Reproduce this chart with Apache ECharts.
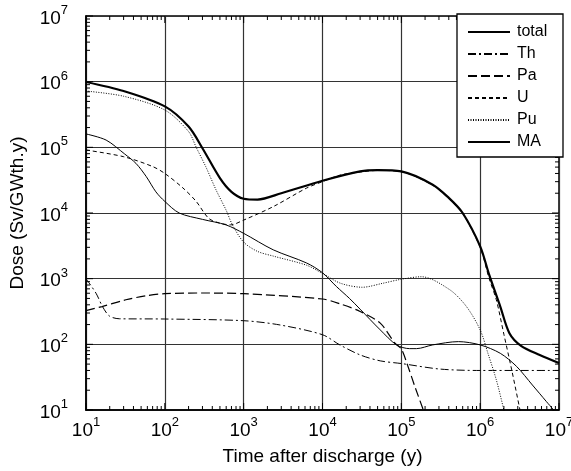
<!DOCTYPE html>
<html>
<head>
<meta charset="utf-8">
<script src="https://cdn.jsdelivr.net/npm/echarts@6/dist/echarts.min.js"></script>
<style>
  html, body { margin: 0; padding: 0; background: #fff; }
  #chart { width: 571px; height: 471px; }
</style>
</head>
<body>
<div id="chart"></div>
<script>
// dose curves, time in years, dose in Sv/GWth.y
const totalT = [10, 30, 100, 200, 300, 500, 700, 1000, 1500, 3000, 1e4, 3e4, 5e4, 1e5, 2.5e5, 4e5, 6e5, 1e6, 1.3e6, 1.8e6, 2.35e6, 3.3e6, 5.7e6, 1e7];
const totalV = [9.9e5, 7.2e5, 4.2e5, 2.07e5, 9.7e4, 3.4e4, 2.1e4, 1.65e4, 1.6e4, 2.0e4, 3.1e4, 4.3e4, 4.5e4, 4.3e4, 2.7e4, 1.7e4, 1.0e4, 3.1e3, 1.15e3, 376, 148, 95, 69, 52];

const thT = [10, 13.4, 16.2, 19.8, 26.5, 100, 1000, 2900, 1e4, 1.66e4, 3e4, 5.4e4, 1e5, 3.1e5, 1e6, 1e7];
const thV = [1000, 600, 376, 270, 245, 243, 229, 197, 140, 98, 69, 56, 51, 42, 40, 40];

const paT = [10, 16, 32, 58, 100, 300, 1000, 1e4, 1.66e4, 3e4, 5.4e4, 8.3e4, 1e5, 1.2e5, 1.5e5, 1.9e5, 2.2e5];
const paV = [327, 376, 477, 550, 590, 605, 590, 490, 415, 317, 210, 104, 85, 48, 22, 10, 6];

const uT = [10, 30, 70, 100, 170, 250, 360, 500, 680, 1000, 2400, 6300, 1e4, 1.7e4, 3e4, 5e4, 1e5, 2.5e5, 4e5, 6e5, 1e6, 1.3e6, 1.6e6, 2e6, 2.5e6, 3.2e6, 3.6e6];
const uV = [9.1e4, 7.2e4, 5.1e4, 4.0e4, 2.4e4, 1.5e4, 8.3e3, 7.0e3, 6.6e3, 7.8e3, 1.26e4, 2.4e4, 3.0e4, 3.8e4, 4.2e4, 4.45e4, 4.25e4, 2.65e4, 1.65e4, 9.8e3, 3.0e3, 1.0e3, 480, 142, 42, 10, 5];

const puT = [10, 30, 100, 200, 250, 330, 450, 600, 720, 1000, 1500, 2400, 6300, 1e4, 1.7e4, 3.2e4, 5.8e4, 1e5, 1.8e5, 4.1e5, 6.7e5, 1e6, 1.25e6, 1.6e6, 2e6, 2.3e6];
const puV = [7.2e5, 6.0e5, 3.7e5, 1.74e5, 1.0e5, 5.1e4, 2.2e4, 1.1e4, 6.6e3, 3.6e3, 2.6e3, 2.2e3, 1.6e3, 1.2e3, 850, 740, 850, 980, 1.07e3, 680, 376, 166, 74, 29, 10, 5];

const maT = [10, 18, 31, 43, 58, 77, 100, 152, 300, 595, 1000, 2370, 6300, 1e4, 1.5e4, 2.2e4, 3e4, 5.4e4, 8.7e4, 1.27e5, 1.56e5, 2.5e5, 5.3e5, 1e6, 1.8e6, 2.9e6, 4.6e6, 6.9e6, 8.5e6, 1e7];
const maV = [1.6e5, 1.29e5, 7.9e4, 5.7e4, 3.6e4, 2.1e4, 1.5e4, 1.0e4, 8.0e3, 6.6e3, 4.9e3, 2.75e3, 1.73e3, 1.23e3, 760, 500, 343, 166, 98, 86, 86, 98, 110, 98, 73, 46, 24, 13.5, 10, 7];

const names = ['total', 'Th', 'Pa', 'U', 'Pu', 'MA'];
const decades = [1, 2, 3, 4, 5, 6, 7];

const font = '"Liberation Sans", Arial, Helvetica, sans-serif';

function pairs(t, v) {
    return t.map((x, i) => [x, v[i]]);
}

// inside ticks on all four sides (2..9 per decade)
let xTicks = [];
let yTicks = [];
decades.forEach(d => {
    xTicks.push([Math.pow(10, d), 100, 7]);
    yTicks.push([100, Math.pow(10, d), 7]);
    if (d < 7) {
        for (let m = 2; m <= 9; m++) {
            xTicks.push([m * Math.pow(10, d), 100, 4]);
            yTicks.push([100, m * Math.pow(10, d), 4]);
        }
    }
});

function tickLine(x1, y1, x2, y2) {
    return {type: 'line', shape: {x1: x1, y1: y1, x2: x2, y2: y2}, style: {stroke: '#000', lineWidth: 1}};
}

function powLabel(v) {
    return '{b|10}{s|' + Math.round(Math.log10(v)) + '}';
}

const labelRich = {
    b: {fontSize: 19, fontFamily: font, color: '#000', verticalAlign: 'bottom'},
    s: {fontSize: 13, fontFamily: font, color: '#000', verticalAlign: 'bottom', padding: [0, 0, 11, 0]}
};

function lineSeries(name, t, v, width, dash) {
    return {
        name: name,
        type: 'line',
        data: pairs(t, v),
        symbol: 'none',
        showSymbol: false,
        smooth: 0.3,
        clip: true,
        color: '#000',
        itemStyle: {color: '#000'},
        lineStyle: {color: '#000', width: width, type: dash},
        z: 2
    };
}

const chart = echarts.init(document.getElementById('chart'));
chart.setOption({
    backgroundColor: '#fff',
    animation: false,
    grid: {
        left: 86,
        right: 12,
        top: 16,
        bottom: 61,
        outerBoundsMode: 'none',
        containLabel: false,
        show: true,
        borderColor: '#000',
        borderWidth: 1.5,
        backgroundColor: 'transparent'
    },
    xAxis: {
        type: 'log',
        logBase: 10,
        min: 10,
        max: 1e7,
        name: 'Time after discharge (y)',
        nameLocation: 'middle',
        nameGap: 37,
        nameTextStyle: {fontSize: 19, fontFamily: font, color: '#000'},
        axisLine: {lineStyle: {color: '#000', width: 1.5}},
        axisTick: {show: false},
        axisLabel: {formatter: powLabel, rich: labelRich, margin: 6},
        splitLine: {show: true, lineStyle: {color: '#333', width: 1.2}},
        minorTick: {show: false}
    },
    yAxis: {
        type: 'log',
        logBase: 10,
        min: 10,
        max: 1e7,
        name: 'Dose (Sv/GWth.y)',
        nameLocation: 'middle',
        nameGap: 59,
        nameTextStyle: {fontSize: 19, fontFamily: font, color: '#000'},
        axisLine: {lineStyle: {color: '#000', width: 1.5}},
        axisTick: {show: false},
        axisLabel: {formatter: powLabel, rich: labelRich, margin: 18},
        splitLine: {show: true, lineStyle: {color: '#333', width: 1.2}},
        minorTick: {show: false}
    },
    legend: {
        data: names,
        orient: 'vertical',
        left: 467,
        top: 23,
        itemWidth: 42,
        itemHeight: 13,
        itemGap: 4,
        padding: 0,
        z: 5,
        itemStyle: {opacity: 0},
        textStyle: {fontSize: 16, lineHeight: 18, fontFamily: font, color: '#000', padding: [0, 0, 0, 2]}
    },
    graphic: [{
        type: 'rect',
        shape: {x: 457, y: 14, width: 106, height: 143},
        style: {fill: '#fff', stroke: '#000', lineWidth: 1.3},
        z: 4
    }],
    series: [
        lineSeries('total', totalT, totalV, 2.2, 'solid'),
        lineSeries('Th', thT, thV, 1, [8, 3, 2, 3]),
        lineSeries('Pa', paT, paV, 1.2, [9, 4]),
        lineSeries('U', uT, uV, 1, [4, 3]),
        lineSeries('Pu', puT, puV, 1, [1, 1.5]),
        lineSeries('MA', maT, maV, 1, 'solid'),
        {
            type: 'custom',
            silent: true,
            z: 3,
            data: xTicks,
            renderItem: function (params, api) {
                const v = api.value(0);
                const len = api.value(2);
                const pb = api.coord([v, 10]);
                const pt = api.coord([v, 1e7]);
                return {type: 'group', children: [
                    tickLine(pb[0], pb[1], pb[0], pb[1] - len),
                    tickLine(pt[0], pt[1], pt[0], pt[1] + len)
                ]};
            }
        },
        {
            type: 'custom',
            silent: true,
            z: 3,
            data: yTicks,
            renderItem: function (params, api) {
                const v = api.value(1);
                const len = api.value(2);
                const pl = api.coord([10, v]);
                const pr = api.coord([1e7, v]);
                return {type: 'group', children: [
                    tickLine(pl[0], pl[1], pl[0] + len, pl[1]),
                    tickLine(pr[0], pr[1], pr[0] - len, pr[1])
                ]};
            }
        }
    ]
});
</script>
</body>
</html>
